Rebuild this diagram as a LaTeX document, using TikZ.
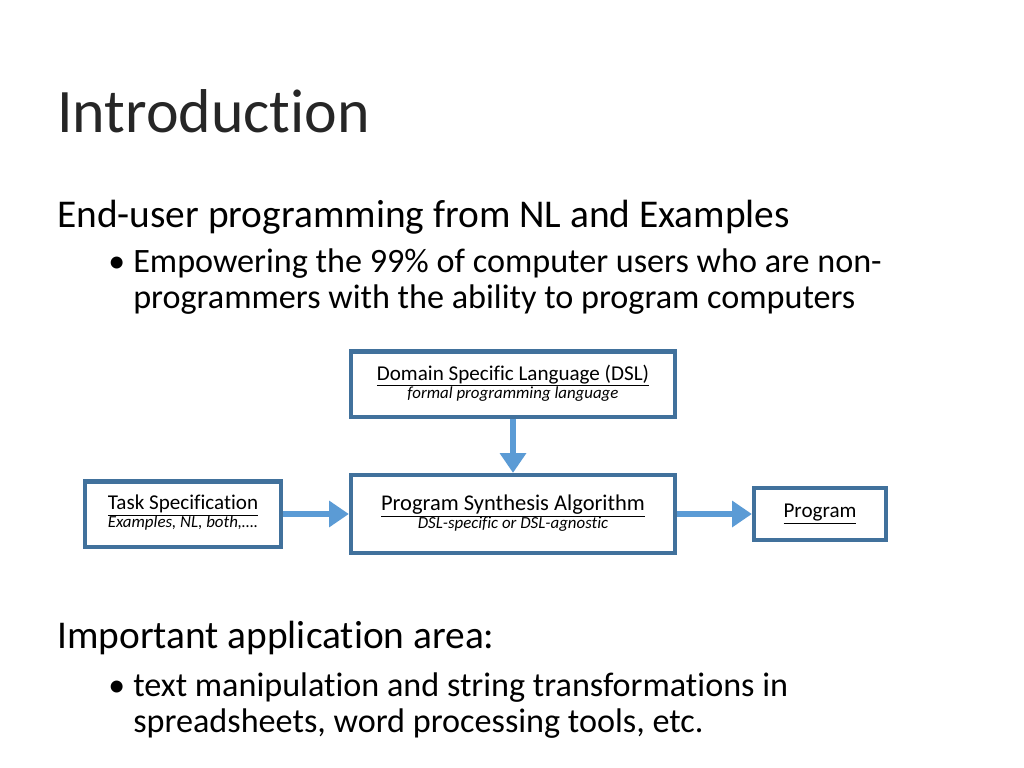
\documentclass[tikz,border=0pt]{standalone}
\usepackage{fontspec}
\setmainfont[Ligatures={NoCommon,NoContextual}]{Carlito}
\usetikzlibrary{arrows.meta}
\definecolor{bordo}{HTML}{41719C}
\definecolor{freccia}{HTML}{5B9BD5}
\tikzset{
	riquadro/.style={draw=bordo, line width=3pt, rectangle, text centered, inner sep=2pt},
	freccia/.style={draw=freccia, line width=4.5pt, -{Triangle[length=14pt,width=18pt]}},
	testo/.style={anchor=base west, inner sep=0pt}
}
\begin{document}
\begin{tikzpicture}[x=0.025cm,y=-0.025cm]
		\useasboundingbox (0,0) rectangle (1024,768);
		
		%Titolo e testo
		\node (titolo) at (57,133) [testo, font=\fontsize{44}{50}\selectfont, text=black!85]{Introduction};
		\node (sottotitolo) at (57,227) [testo, font=\fontsize{28}{33}\selectfont]{End-user programming from NL and Examples};
		\node (puntoUno) at (108,272) [testo, font=\fontsize{24}{29}\selectfont]{\textbullet};
		\node (primaRiga) at (133,272) [testo, font=\fontsize{24.3}{29}\selectfont]{Empowering the 99\% of computer users who are non-};
		\node (secondaRiga) at (133,308) [testo, font=\fontsize{24.3}{29}\selectfont]{programmers with the ability to program computers};
		
		\node (secondoTitolo) at (57,648) [testo, font=\fontsize{28}{33}\selectfont]{Important application area:};
		\node (puntoDue) at (108,696) [testo, font=\fontsize{24}{29}\selectfont]{\textbullet};
		\node (terzaRiga) at (133,696) [testo, font=\fontsize{24.3}{29}\selectfont]{text manipulation and string transformations in};
		\node (quartaRiga) at (133,732) [testo, font=\fontsize{24.3}{29}\selectfont]{spreadsheets, word processing tools, etc.};
		
		%Disegno i riquadri
		\node (linguaggio) at (513,384) [riquadro, minimum width=8.1cm, minimum height=1.63cm]{\begin{tabular}{c}\fontsize{15}{17}\selectfont\underline{Domain Specific Language (DSL)}\\[0pt]\fontsize{12}{13}\selectfont\itshape formal programming language\end{tabular}};
		
		\node (algoritmo) at (513,514) [riquadro, minimum width=8.1cm, minimum height=1.95cm]{\begin{tabular}{c}\fontsize{16}{18}\selectfont\underline{Program Synthesis Algorithm}\\[0pt]\fontsize{12}{13}\selectfont\itshape DSL-specific or DSL-agnostic\end{tabular}};
		
		\node (specifica) at (183,514) [riquadro, minimum width=4.9cm, minimum height=1.63cm]{\begin{tabular}{l}\fontsize{15}{17}\selectfont\underline{Task Specification}\\[0pt]\fontsize{12}{13}\selectfont\itshape Examples, NL, both,\dots.\end{tabular}};
		
		\node (programma) at (820,514) [riquadro, minimum width=3.3cm, minimum height=1.3cm]{\fontsize{15}{17}\selectfont\underline{Program}};
		
		%Disegno i collegamenti
		\draw[freccia] (linguaggio.south) -- (algoritmo.north);
		\draw[freccia] (specifica.east) -- (algoritmo.west);
		\draw[freccia] (algoritmo.east) -- (programma.west);
		
\end{tikzpicture}
\end{document}
